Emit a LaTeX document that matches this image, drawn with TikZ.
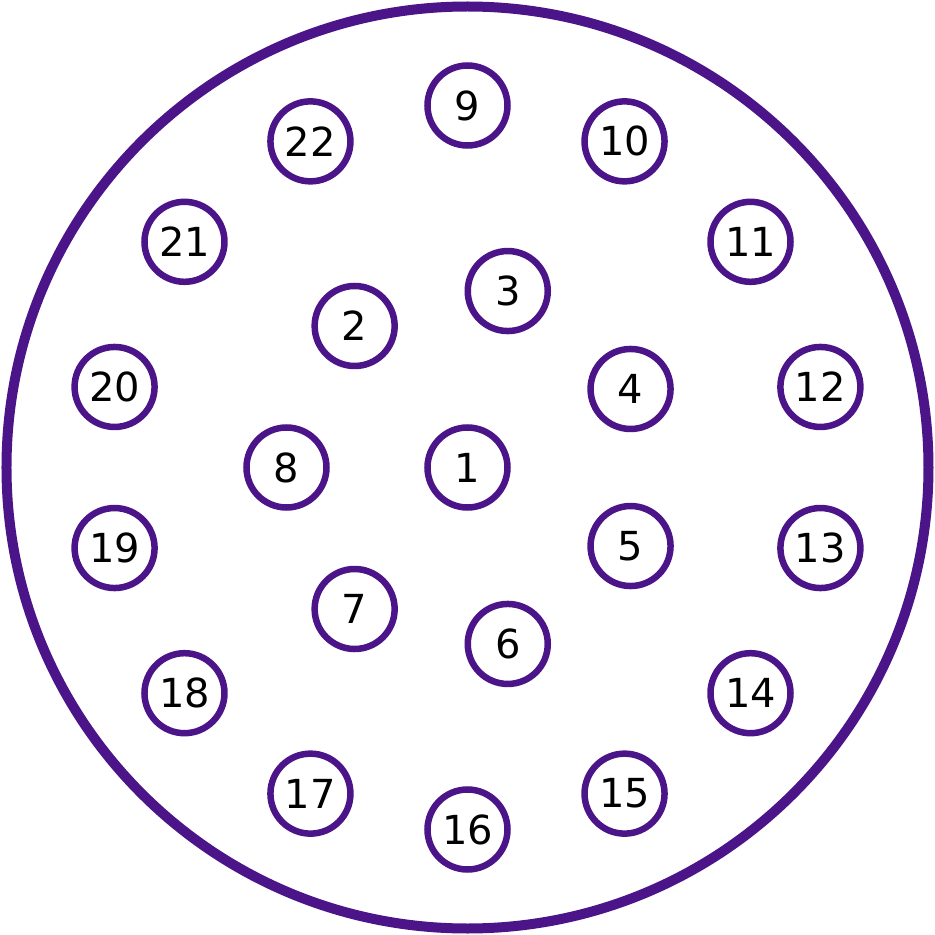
\documentclass[tikz,border=0pt]{standalone}
\usepackage{fontspec}
\setmainfont{DejaVu Sans}
\usepackage{xcolor}
\definecolor{pinpurple}{HTML}{4B1589}

\begin{document}
\begin{tikzpicture}[
        x=1pt, y=1pt,
        pin/.style={circle, draw=pinpurple, line width=6.5pt, fill=white,
                    minimum size=80pt, inner sep=0pt, text=black,
                    font=\fontsize{40}{42}\selectfont},
        shell/.style={circle, draw=pinpurple, line width=10pt,
                      minimum size=922pt, inner sep=0pt}
    ]
        \useasboundingbox (-467.5,-467.5) rectangle (467.5,467.5);
        % Shell
        \node[shell] (shell) at (0,0) {};

        % Centre pin
        \node[pin] (pin1) at (0,0) {1};
        % Inner ring
        \foreach \k in {2,...,8}
            \node[pin] (pin\k) at ({180-(\k-1)*360/7}:181) {\k};
        % Outer ring
        \foreach \k in {9,...,22}
            \node[pin] (pin\k) at ({90-(\k-9)*360/14}:362) {\k};
    \end{tikzpicture}
\end{document}
